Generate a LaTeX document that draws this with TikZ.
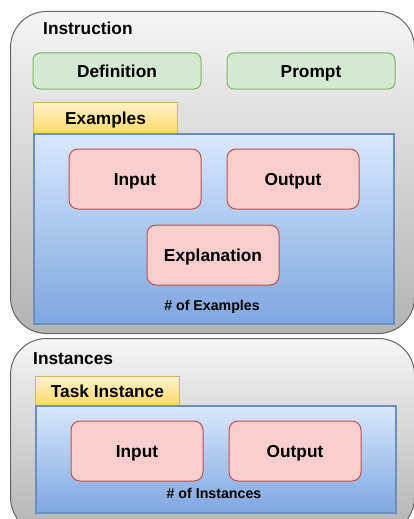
\documentclass[tikz,border=0pt]{standalone}
\usepackage{fontspec}
\setmainfont{Liberation Sans}
\definecolor{panelTop}{HTML}{F5F5F5}
\definecolor{panelBot}{HTML}{B3B3B3}
\definecolor{panelLine}{HTML}{666666}
\definecolor{greenFill}{HTML}{D5E8D4}
\definecolor{greenLine}{HTML}{82B366}
\definecolor{pinkFill}{HTML}{F8CECC}
\definecolor{pinkLine}{HTML}{B85450}
\definecolor{blueTop}{HTML}{DAE8FC}
\definecolor{blueBot}{HTML}{7EA6E0}
\definecolor{blueLine}{HTML}{6C8EBF}
\definecolor{tabTop}{HTML}{FFF2CC}
\definecolor{tabBot}{HTML}{FFD966}
\definecolor{tabLine}{HTML}{D6B656}
\tikzset{
  every node/.style={font=\fontsize{17.3}{20}\selectfont\bfseries, inner sep=0pt,
    text height=12.4pt, text depth=0pt},
  panel/.style={draw=panelLine, line width=1pt, rounded corners=36pt,
    top color=panelTop, bottom color=panelBot, anchor=north west},
  field/.style={draw=greenLine, fill=greenFill, line width=1pt, rounded corners=7pt,
    minimum width=168pt, minimum height=36pt},
  tab/.style={draw=tabLine, line width=1pt, top color=tabTop, bottom color=tabBot,
    anchor=north west, minimum width=144pt},
  group/.style={draw=blueLine, line width=1.5pt, top color=blueTop, bottom color=blueBot,
    anchor=north west, minimum width=360pt},
  part/.style={draw=pinkLine, fill=pinkFill, line width=1pt, rounded corners=9pt,
    minimum width=132pt, minimum height=60pt},
  count/.style={font=\fontsize{14.2}{17}\selectfont\bfseries, text height=10.2pt}
}
\begin{document}
\begin{tikzpicture}[x=1pt,y=-1pt]
  \useasboundingbox (0,0) rectangle (414,519);
  \clip (0,0) rectangle (414,519);
  % instruction part
  \node[panel, minimum width=404pt, minimum height=322pt] (instr) at (10,11) {};
  \node[anchor=west] (instrlabel) at (43,28) {Instruction};
  \node[field] (def) at (117,71) {Definition};
  \node[field] (prompt) at (311,71) {Prompt};
  \node[tab, minimum height=31pt] (extab) at (33,102) {Examples};
  \node[group, minimum height=190pt] (exgroup) at (33,133) {};
  \node[part] (exin) at (135,179) {Input};
  \node[part] (exout) at (293,179) {Output};
  \node[part] (exexpl) at (213,255) {Explanation};
  \node[count] (excount) at (212,305) {\# of Examples};
  % instances part
  \node[panel, minimum width=404pt, minimum height=195pt] (inst) at (10,338) {};
  \node[anchor=west] (instlabel) at (33,358) {Instances};
  \node[tab, minimum height=29pt] (insttab) at (35,376) {Task Instance};
  \node[group, minimum height=107pt] (instgroup) at (35,405) {};
  \node[part] (instin) at (137,451) {Input};
  \node[part] (instout) at (295,451) {Output};
  \node[count] (instcount) at (214,493) {\# of Instances};
\end{tikzpicture}
\end{document}
